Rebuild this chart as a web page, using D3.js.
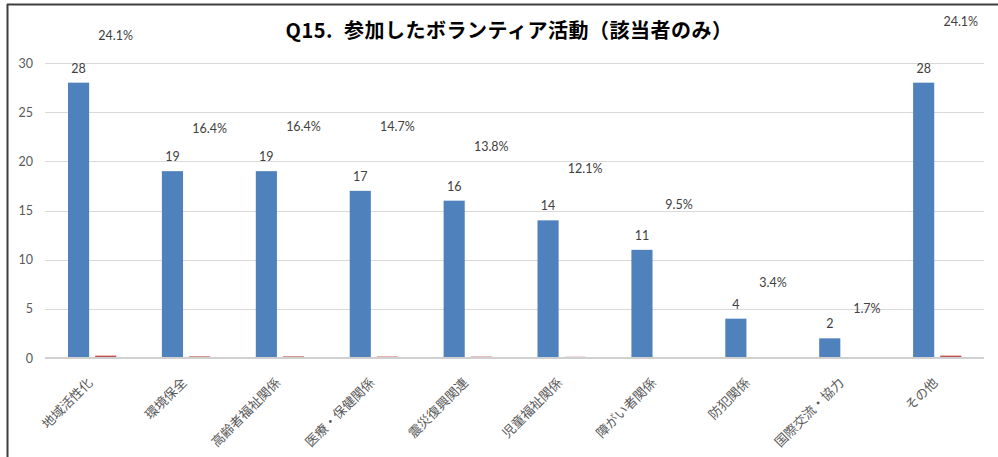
<!DOCTYPE html>
<html>
<head>
<meta charset="utf-8">
<script src="https://cdn.jsdelivr.net/npm/d3@7"></script>
<style>
  html, body { margin: 0; padding: 0; background: #ffffff; }
  svg { display: block; }
</style>
</head>
<body>
<div id="chart"></div>
<script>
// ---- data ----
const title = "Q15. 参加したボランティア活動（該当者のみ）";
const categories = ["地域活性化", "環境保全", "高齢者福祉関係", "医療・保健関係", "震災復興関連",
                    "児童福祉関係", "障がい者関係", "防犯関係", "国際交流・協力", "その他"];
const counts = [28, 19, 19, 17, 16, 14, 11, 4, 2, 28];
const shares = [0.241, 0.164, 0.164, 0.147, 0.138, 0.121, 0.095, 0.034, 0.017, 0.241];
const shareLabels = ["24.1%", "16.4%", "16.4%", "14.7%", "13.8%", "12.1%", "9.5%", "3.4%", "1.7%", "24.1%"];
// level (in axis units) at which each share label was placed in the original
const shareLabelLevel = [32.75, 23.3, 23.5, 23.5, 21.5, 19.3, 15.6, 7.7, 5.0, 34.2];
const yTicks = [0, 5, 10, 15, 20, 25, 30];

// ---- layout ----
const W = 998, H = 457;
const plot = { left: 45, right: 984, top: 63, bottom: 358 };

const svg = d3.select("#chart").append("svg").attr("width", W).attr("height", H);

const x = d3.scaleBand().domain(categories).range([plot.left, plot.right]).paddingInner(0).paddingOuter(0);
const y = d3.scaleLinear().domain([0, 30]).range([plot.bottom, plot.top]);

const bw = x.bandwidth();
const barW = bw * 0.225;          // ~21px
const blueOff = bw * 0.245;       // offset of blue bar in band
const redOff = blueOff + barW + 6;

// frame
svg.append("line").attr("x1", 7).attr("x2", W).attr("y1", 4.5).attr("y2", 4.5)
  .attr("stroke", "#3f3f3f").attr("stroke-width", 2);
svg.append("line").attr("x1", 7.5).attr("x2", 7.5).attr("y1", 4).attr("y2", H)
  .attr("stroke", "#3f3f3f").attr("stroke-width", 2);

// gridlines
svg.append("g").selectAll("line").data(yTicks.filter(d => d > 0)).join("line")
  .attr("x1", plot.left).attr("x2", plot.right)
  .attr("y1", d => Math.round(y(d)) + 0.5).attr("y2", d => Math.round(y(d)) + 0.5)
  .attr("stroke", "#d9d9d9").attr("stroke-width", 1);

// y axis labels
const yAxis = d3.axisLeft(y).tickValues(yTicks).tickSize(0).tickPadding(0);
const yg = svg.append("g").attr("transform", `translate(33,0)`).call(yAxis);
yg.select(".domain").remove();
yg.selectAll("text").attr("fill", "#595959").style("font-family", "Lato, 'Open Sans', sans-serif")
  .style("font-size", "12.5px");

// blue bars
svg.append("g").selectAll("rect").data(counts).join("rect")
  .attr("x", (d, i) => x(categories[i]) + blueOff)
  .attr("width", barW)
  .attr("y", d => y(d))
  .attr("height", d => y(0) - y(d))
  .attr("fill", "#4f81bd");

// red bars (shares)
svg.append("g").selectAll("rect").data(shares).join("rect")
  .attr("x", (d, i) => x(categories[i]) + redOff)
  .attr("width", barW)
  .attr("y", d => y(d))
  .attr("height", d => y(0) - y(d))
  .attr("fill", "#c0504d");

// baseline axis
svg.append("line").attr("x1", plot.left).attr("x2", plot.right)
  .attr("y1", y(0)).attr("y2", y(0))
  .attr("stroke", "#d0d0d0").attr("stroke-width", 1.8);

// count labels
svg.append("g").selectAll("text").data(counts).join("text")
  .attr("x", (d, i) => x(categories[i]) + blueOff + barW / 2)
  .attr("y", d => y(d) - 10)
  .attr("text-anchor", "middle")
  .attr("fill", "#404040")
  .style("font-family", "Lato, 'Open Sans', sans-serif").style("font-size", "12.5px")
  .text(d => d);

// share labels
svg.append("g").selectAll("text").data(shareLabels).join("text")
  .attr("x", (d, i) => x(categories[i]) + redOff + barW / 2 + 10)
  .attr("y", (d, i) => y(shareLabelLevel[i]))
  .attr("dy", "0.35em")
  .attr("text-anchor", "middle")
  .attr("fill", "#404040")
  .style("font-family", "Lato, 'Open Sans', sans-serif").style("font-size", "12.5px")
  .text(d => d);

// x labels
svg.append("g").selectAll("text").data(categories).join("text")
  .attr("transform", d => `translate(${x(d) + bw / 2 - 1},381) rotate(-45)`)
  .attr("text-anchor", "end")
  .attr("dominant-baseline", "middle")
  .attr("fill", "#595959")
  .style("font-family", "'Noto Sans CJK JP', sans-serif").style("font-size", "13px")
  .text(d => d);

// title
svg.append("text")
  .attr("x", 509).attr("y", 31)
  .attr("dy", "0.35em")
  .attr("text-anchor", "middle")
  .attr("fill", "#000000")
  .style("font-family", "'Noto Sans CJK JP', sans-serif").style("font-size", "20px")
  .style("font-weight", "bold")
  .style("letter-spacing", "0.5px")
  .style("word-spacing", "6px")
  .text(title);
</script>
</body>
</html>
